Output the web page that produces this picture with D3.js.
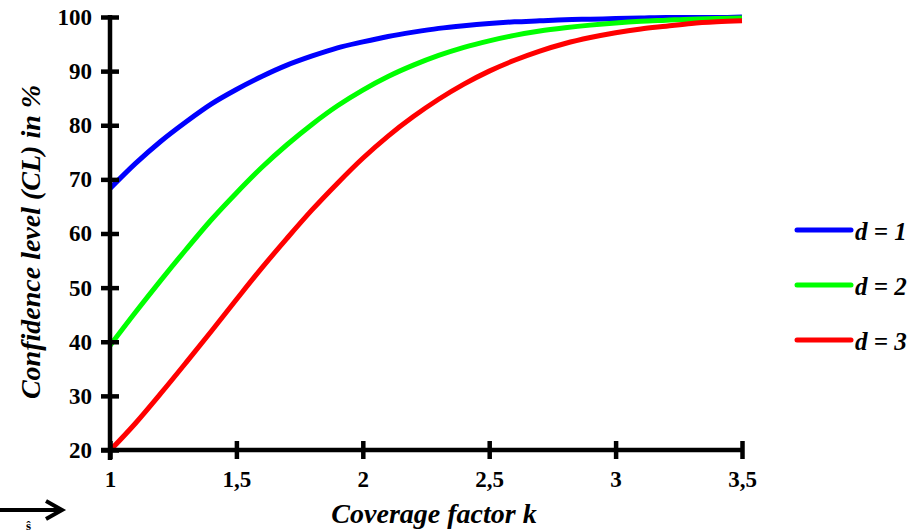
<!DOCTYPE html>
<html>
<head>
<meta charset="utf-8">
<script src="https://cdn.jsdelivr.net/npm/d3@7"></script>
<style>
body { margin: 0; background: #fff; }
</style>
</head>
<body>
<div id="chart"></div>
<script>
// Confidence level vs coverage factor

var kValues = [1.0, 1.1, 1.2, 1.3, 1.4, 1.5, 1.6, 1.7, 1.8, 1.9, 2.0, 2.1, 2.2,
               2.3, 2.4, 2.5, 2.6, 2.7, 2.8, 2.9, 3.0, 3.1, 3.2, 3.3, 3.4, 3.5];

var d1 = [68.3, 72.9, 77.0, 80.6, 83.9, 86.6, 89.0, 91.1, 92.8, 94.3, 95.4, 96.4, 97.2,
          97.9, 98.4, 98.8, 99.1, 99.3, 99.5, 99.6, 99.7, 99.8, 99.9, 99.9, 99.9, 100.0];
var d2 = [39.3, 45.4, 51.3, 57.0, 62.5, 67.5, 72.2, 76.4, 80.2, 83.6, 86.5, 89.0, 91.1,
          92.9, 94.4, 95.6, 96.6, 97.4, 98.0, 98.5, 98.9, 99.2, 99.4, 99.6, 99.7, 99.8];
var d3v = [19.9, 24.9, 30.4, 36.1, 41.9, 47.8, 53.6, 59.1, 64.4, 69.3, 73.9, 78.0, 81.6,
           84.8, 87.6, 90.0, 92.0, 93.7, 95.1, 96.2, 97.1, 97.8, 98.3, 98.8, 99.1, 99.3];

var seriesNames = ["d = 1", "d = 2", "d = 3"];
var seriesColors = ["#0000ff", "#00ff00", "#ff0000"];

var xTicks = [1, 1.5, 2, 2.5, 3, 3.5];
var yTicks = [20, 30, 40, 50, 60, 70, 80, 90, 100];

var WIDTH = 915;
var HEIGHT = 532;
var LEFT = 110, RIGHT = 742, TOP = 17, BOTTOM = 450;
var FONT = "'Liberation Serif', 'Times New Roman', serif";

var svg = d3.select("#chart").append("svg")
    .attr("width", WIDTH)
    .attr("height", HEIGHT);

var x = d3.scaleLinear().domain([1, 3.5]).range([LEFT, RIGHT]);
var y = d3.scaleLinear().domain([20, 100]).range([BOTTOM, TOP]);

function fmt(v) { return String(v).replace(".", ","); }

// curves
var line = d3.line()
    .x(function(d) { return x(d[0]); })
    .y(function(d) { return y(d[1]); })
    .curve(d3.curveMonotoneX);

var allSeries = [d1, d2, d3v];
allSeries.forEach(function(vals, i) {
    svg.append("path")
        .datum(kValues.map(function(k, j) { return [k, vals[j]]; }))
        .attr("fill", "none")
        .attr("stroke", seriesColors[i])
        .attr("stroke-width", 5)
        .attr("stroke-linejoin", "round")
        .attr("d", line);
});

// y axis
var yAxis = svg.append("g")
    .attr("transform", "translate(" + LEFT + ",0)")
    .call(d3.axisLeft(y).tickValues(yTicks).tickSize(9).tickPadding(9));
yAxis.select(".domain").remove();
yAxis.selectAll(".tick line")
    .attr("x1", 9).attr("stroke", "#000").attr("stroke-width", 4.5);
yAxis.selectAll(".tick text")
    .attr("fill", "#000")
    .style("font-family", FONT).style("font-weight", "bold").style("font-size", "23px");
yAxis.append("line")
    .attr("x1", 0).attr("x2", 0)
    .attr("y1", TOP - 2).attr("y2", BOTTOM + 10)
    .attr("stroke", "#000").attr("stroke-width", 4.5);

// x axis
var xAxis = svg.append("g")
    .attr("transform", "translate(0," + BOTTOM + ")")
    .call(d3.axisBottom(x).tickValues(xTicks).tickFormat(fmt).tickSize(9).tickPadding(12));
xAxis.select(".domain").remove();
xAxis.selectAll(".tick line")
    .attr("y1", -9).attr("stroke", "#000").attr("stroke-width", 4.5);
xAxis.selectAll(".tick text")
    .attr("fill", "#000")
    .style("font-family", FONT).style("font-weight", "bold").style("font-size", "23px");
xAxis.append("line")
    .attr("x1", LEFT - 9).attr("x2", RIGHT + 2)
    .attr("y1", 0).attr("y2", 0)
    .attr("stroke", "#000").attr("stroke-width", 4.5);

// axis titles
svg.append("text")
    .attr("x", 434)
    .attr("y", 523)
    .attr("text-anchor", "middle")
    .style("font-family", FONT).style("font-weight", "bold")
    .style("font-style", "italic").style("font-size", "28px")
    .text("Coverage factor k");

svg.append("text")
    .attr("transform", "translate(40,242) rotate(-90)")
    .attr("text-anchor", "middle")
    .style("font-family", FONT).style("font-weight", "bold")
    .style("font-style", "italic").style("font-size", "28px")
    .text("Confidence level (CL) in %");

// legend
var legend = svg.selectAll(".legend")
    .data(seriesNames)
    .enter().append("g")
    .attr("class", "legend")
    .attr("transform", function(d, i) { return "translate(797," + (230 + i * 55) + ")"; });

legend.append("line")
    .attr("x1", 0).attr("x2", 54)
    .attr("stroke", function(d, i) { return seriesColors[i]; })
    .attr("stroke-width", 5)
    .attr("stroke-linecap", "round");

legend.append("text")
    .attr("x", 58)
    .attr("y", 10)
    .style("font-family", FONT).style("font-weight", "bold")
    .style("font-style", "italic").style("font-size", "25px")
    .text(function(d) { return d; });

// stray arrow at bottom-left
svg.append("line")
    .attr("x1", 0).attr("x2", 61)
    .attr("y1", 510).attr("y2", 510)
    .attr("stroke", "#000").attr("stroke-width", 4);
svg.append("path")
    .attr("d", "M46,501 L62,510 L46,519")
    .attr("fill", "none")
    .attr("stroke", "#000").attr("stroke-width", 4);
svg.append("text")
    .attr("x", 26).attr("y", 530)
    .style("font-family", FONT).style("font-weight", "bold").style("font-size", "13px")
    .text("ŝ");
</script>
</body>
</html>
